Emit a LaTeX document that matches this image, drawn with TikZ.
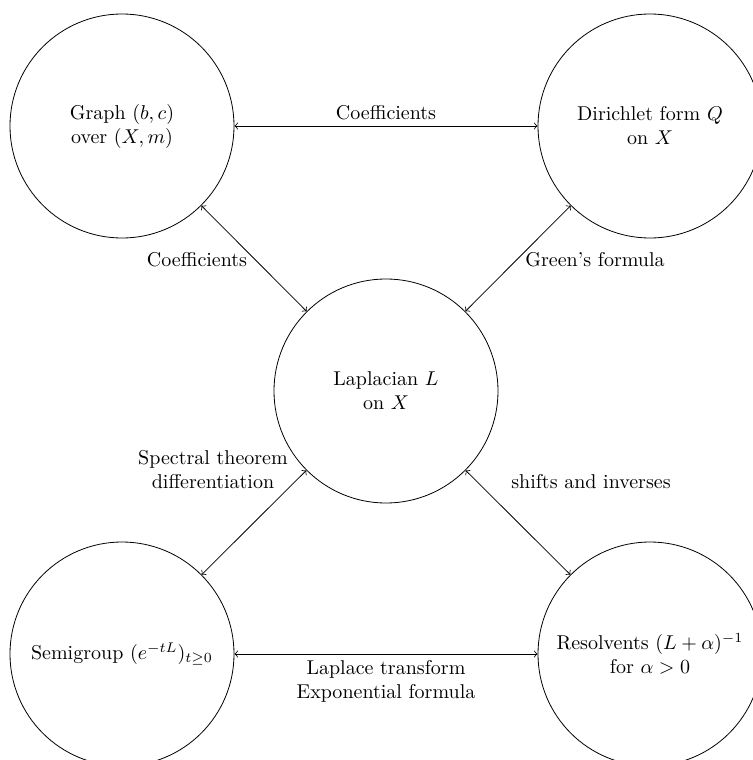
\documentclass[tikz,border=0pt]{standalone}
\begin{document}
\begin{tikzpicture}[x=0.5pt,y=-0.5pt,
  state/.style={circle,draw,minimum size=112pt,inner sep=0pt,align=center},
  link/.style={<->},
  lbl/.style={align=center,inner sep=0pt}]
\useasboundingbox (0,0) rectangle (753,760);
\clip (0,0) rectangle (753,760);
\node[state] (g) at (122,126) {Graph $(b,c)$\\ over $(X,m)$};
\node[state] (q) at (650,126) {Dirichlet form $Q$\\ on $X$};
\node[state] (l) at (386,391) {Laplacian $L$\\ on $X$};
\node[state] (s) at (122,654) {Semigroup $(e^{-tL})_{t\geq 0}$};
\node[state] (r) at (650,654) {Resolvents $(L+\alpha)^{-1}$\\ for $\alpha>0$};
\draw[link] (g) -- (q);
\draw[link] (g) -- (l);
\draw[link] (q) -- (l);
\draw[link] (l) -- (s);
\draw[link] (l) -- (r);
\draw[link] (s) -- (r);
\node[lbl] (t1) at (386,113) {Coefficients};
\node[lbl] (t2) at (197,260) {Coefficients};
\node[lbl] (t3) at (595,260) {Green's formula};
\node[lbl] (t4) at (213,470) {Spectral theorem\\differentiation};
\node[lbl] (t5) at (591,482) {shifts and inverses};
\node[lbl] (t6) at (386,681) {Laplace transform\\Exponential formula};
\end{tikzpicture}
\end{document}
